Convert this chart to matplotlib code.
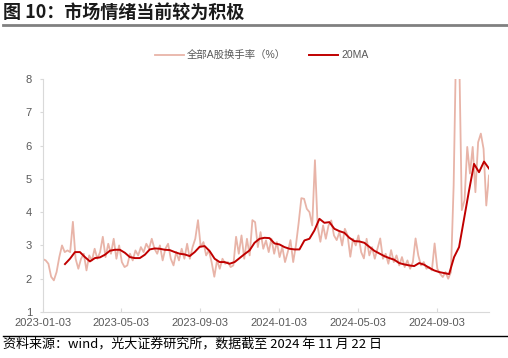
import matplotlib
matplotlib.use("Agg")
import matplotlib.pyplot as plt
import matplotlib.dates as mdates
import pandas as pd

plt.rcParams['font.family'] = ['Liberation Sans', 'Noto Sans CJK SC', 'DejaVu Sans']

# daily turnover (%), sampled about every 3 trading days, 2023-01-03 .. 2024-11-22
turnover = [
    2.59, 2.55, 2.45, 2.06, 1.95, 2.20, 2.65, 3.00, 2.80, 2.85,
    2.80, 3.71, 2.60, 2.30, 2.60, 2.75, 2.25, 2.70, 2.55, 2.90,
    2.60, 2.80, 3.26, 2.65, 3.05, 2.75, 3.20, 2.60, 3.00, 2.50,
    2.35, 2.40, 2.75, 2.55, 2.85, 2.70, 2.95, 2.80, 3.05, 2.90,
    3.20, 2.90, 2.75, 3.00, 2.55, 2.90, 3.05, 2.60, 2.40, 2.80,
    2.55, 2.90, 2.60, 3.05, 2.60, 2.95, 3.20, 3.76, 2.95, 3.10,
    2.70, 2.85, 2.50, 2.06, 2.55, 2.30, 2.60, 2.45, 2.50, 2.35,
    2.40, 3.26, 2.75, 3.30, 2.60, 3.20, 2.70, 3.76, 3.70, 2.95,
    3.40, 2.90, 3.15, 2.80, 3.20, 2.75, 3.10, 2.65, 2.95, 2.50,
    2.80, 3.16, 2.50, 3.00, 3.67, 4.42, 4.40, 4.10, 4.00, 3.60,
    5.56, 3.56, 3.11, 3.60, 3.20, 3.60, 3.75, 3.30, 3.16, 3.40,
    3.00, 3.50, 3.30, 2.66, 3.20, 3.00, 3.30, 2.80, 2.61, 3.20,
    2.70, 2.95, 2.60, 2.90, 3.21, 2.60, 2.75, 2.45, 2.86, 2.50,
    2.70, 2.40, 2.65, 2.35, 2.55, 2.30, 2.50, 3.21, 2.70, 2.40,
    2.50, 2.30, 2.35, 2.25, 3.06, 2.30, 2.15, 2.05, 2.20, 2.00,
    2.20, 4.80, 9.50, 9.00, 4.06, 4.36, 5.96, 5.16, 5.96, 4.60,
    6.10, 6.36, 5.90, 4.20, 5.10,
]

# 20-day moving average, sampled about weekly, 2023-02-06 .. 2024-11-22
ma20 = [
    2.44, 2.60, 2.80, 2.80, 2.65, 2.52, 2.62, 2.64, 2.72, 2.84,
    2.87, 2.87, 2.78, 2.65, 2.62, 2.62, 2.72, 2.88, 2.91, 2.90,
    2.87, 2.86, 2.80, 2.75, 2.73, 2.68, 2.80, 2.96, 2.98, 2.83,
    2.60, 2.50, 2.50, 2.45, 2.50, 2.62, 2.74, 2.85, 3.08, 3.20,
    3.23, 3.22, 3.06, 3.03, 2.95, 2.90, 2.88, 2.88, 3.15, 3.20,
    3.45, 3.80, 3.68, 3.70, 3.50, 3.43, 3.38, 3.23, 3.13, 3.12,
    3.08, 2.96, 2.84, 2.76, 2.68, 2.62, 2.57, 2.47, 2.43, 2.40,
    2.38, 2.47, 2.42, 2.33, 2.25, 2.20, 2.17, 2.14, 2.65, 2.95,
    3.80, 4.65, 5.45, 5.20, 5.52, 5.31,
]

tick_dates = ['2023-01-03', '2023-05-03', '2023-09-03',
              '2024-01-03', '2024-05-03', '2024-09-03']

t_dates = pd.date_range('2023-01-03', '2024-11-22', periods=len(turnover))
m_dates = pd.date_range('2023-02-06', '2024-11-22', periods=len(ma20))

fig = plt.figure(figsize=(5.08, 3.58), dpi=100)
ax = fig.add_axes([0.0846, 0.1285, 0.878, 0.6508])

ax.plot(t_dates, turnover, color='#E8B4A8', lw=1.3, label='全部A股换手率（%）')
ax.plot(m_dates, ma20, color='#C00000', lw=1.4, label='20MA')

ax.set_ylim(1, 8)
ax.set_xlim(pd.Timestamp('2023-01-03'), pd.Timestamp('2024-11-22'))
ax.set_xticks(pd.to_datetime(tick_dates))
ax.xaxis.set_major_formatter(mdates.DateFormatter('%Y-%m-%d'))

for s in ['top', 'right']:
    ax.spines[s].set_visible(False)
for s in ['left', 'bottom']:
    ax.spines[s].set_color('#D9D9D9')
ax.tick_params(axis='x', direction='in', length=3, color='#D9D9D9',
               labelsize=8, labelcolor='#595959', pad=4)
ax.tick_params(axis='y', direction='out', length=2, color='#D9D9D9',
               labelsize=8, labelcolor='#595959', pad=6)

ax.legend(loc='lower center', bbox_to_anchor=(0.49, 1.04), ncol=2, frameon=False,
          fontsize=7.5, labelcolor='#595959', handlelength=2.8, columnspacing=2.2,
          handletextpad=0.3)

fig.text(0.006, 0.965, '图 10：市场情绪当前较为积极', fontsize=13, fontweight='bold',
         family=['Noto Sans CJK SC'], va='center', ha='left', color='#1a1a1a')
fig.add_artist(plt.Line2D([0.006, 1.0], [0.93, 0.93], color='#808080', lw=2))
fig.add_artist(plt.Line2D([0.006, 1.0], [0.062, 0.062], color='#000000', lw=1))
fig.text(0.006, 0.04, '资料来源：wind，光大证券研究所，数据截至 2024 年 11 月 22 日',
         fontsize=9.4, family=['Noto Sans CJK SC'], va='center', ha='left', color='#000000')

fig.savefig('out.png', dpi=100)
